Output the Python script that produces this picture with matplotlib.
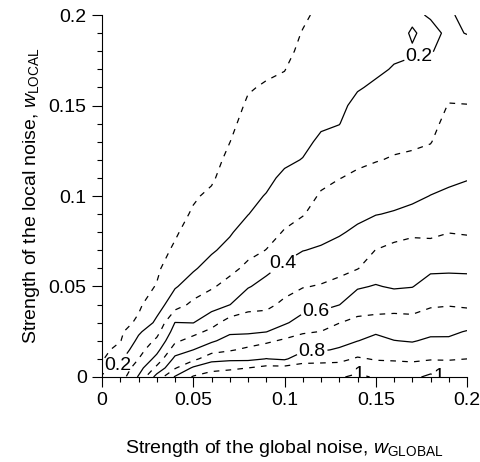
import matplotlib
matplotlib.use('Agg')
import matplotlib.pyplot as plt
import numpy as np

plt.rcParams['font.family'] = 'Liberation Sans'
plt.rcParams['mathtext.fontset'] = 'custom'
plt.rcParams['mathtext.rm'] = 'Liberation Sans'
plt.rcParams['mathtext.it'] = 'Liberation Sans:italic'
plt.rcParams['lines.dashed_pattern'] = [4.5, 5.0]

# grid: w_GLOBAL columns, w_LOCAL rows
w_global = [0.00, 0.01, 0.02, 0.03, 0.04, 0.05, 0.06, 0.07, 0.08, 0.09, 0.10,
            0.11, 0.12, 0.13, 0.14, 0.15, 0.16, 0.17, 0.18, 0.19, 0.20]
w_local = [0.0, 0.005, 0.01, 0.015, 0.02, 0.025, 0.03, 0.04, 0.05, 0.06, 0.07, 0.08,
           0.09, 0.10, 0.11, 0.12, 0.13, 0.14, 0.15, 0.16, 0.17, 0.18, 0.19, 0.20]

# one list per w_GLOBAL column, bottom to top
z_cols = [
    [0.22, 0.15, 0.09, 0.07, 0.055, 0.045, 0.04, 0.03, 0.025, 0.02, 0.02, 0.015, 0.015, 0.01, 0.01, 0.01, 0.01, 0.01, 0.01, 0.01, 0.01, 0.01, 0.01, 0.01],
    [0.25, 0.22, 0.182, 0.136, 0.095, 0.08, 0.068, 0.05, 0.04, 0.03, 0.025, 0.02, 0.02, 0.015, 0.015, 0.015, 0.01, 0.01, 0.01, 0.01, 0.01, 0.01, 0.01, 0.01],
    [0.41, 0.355, 0.30, 0.262, 0.223, 0.185, 0.115, 0.085, 0.065, 0.05, 0.04, 0.035, 0.03, 0.025, 0.02, 0.02, 0.02, 0.015, 0.015, 0.015, 0.01, 0.01, 0.01, 0.01],
    [0.64, 0.525, 0.433, 0.37, 0.32, 0.267, 0.222, 0.155, 0.105, 0.085, 0.07, 0.06, 0.05, 0.045, 0.04, 0.035, 0.03, 0.03, 0.025, 0.025, 0.02, 0.02, 0.02, 0.02],
    [0.81, 0.69, 0.625, 0.55, 0.483, 0.442, 0.402, 0.257, 0.192, 0.152, 0.112, 0.09, 0.075, 0.065, 0.055, 0.05, 0.045, 0.04, 0.035, 0.035, 0.03, 0.03, 0.025, 0.025],
    [0.91, 0.817, 0.671, 0.60, 0.537, 0.47, 0.398, 0.323, 0.242, 0.19, 0.161, 0.134, 0.108, 0.092, 0.08, 0.07, 0.06, 0.055, 0.05, 0.045, 0.04, 0.04, 0.035, 0.035],
    [0.95, 0.867, 0.767, 0.657, 0.587, 0.525, 0.462, 0.36, 0.289, 0.233, 0.19, 0.164, 0.138, 0.113, 0.09, 0.075, 0.065, 0.06, 0.055, 0.05, 0.045, 0.045, 0.04, 0.04],
    [0.97, 0.88, 0.78, 0.689, 0.633, 0.585, 0.546, 0.398, 0.333, 0.275, 0.225, 0.191, 0.172, 0.154, 0.135, 0.117, 0.099, 0.085, 0.075, 0.065, 0.06, 0.055, 0.05, 0.05],
    [0.98, 0.90, 0.778, 0.722, 0.65, 0.585, 0.546, 0.469, 0.393, 0.321, 0.274, 0.237, 0.198, 0.185, 0.169, 0.154, 0.138, 0.123, 0.108, 0.095, 0.085, 0.075, 0.07, 0.065],
    [0.98, 0.93, 0.802, 0.744, 0.683, 0.598, 0.55, 0.477, 0.432, 0.377, 0.302, 0.268, 0.235, 0.203, 0.186, 0.17, 0.155, 0.138, 0.122, 0.106, 0.09, 0.08, 0.075, 0.07],
    [0.99, 0.93, 0.786, 0.75, 0.714, 0.65, 0.587, 0.52, 0.467, 0.419, 0.365, 0.306, 0.273, 0.242, 0.212, 0.189, 0.171, 0.153, 0.135, 0.116, 0.098, 0.08, 0.075, 0.07],
    [0.99, 0.94, 0.86, 0.782, 0.736, 0.69, 0.64, 0.56, 0.495, 0.448, 0.398, 0.344, 0.294, 0.263, 0.231, 0.202, 0.186, 0.172, 0.158, 0.144, 0.131, 0.117, 0.103, 0.09],
    [0.99, 0.94, 0.867, 0.79, 0.745, 0.702, 0.655, 0.573, 0.507, 0.457, 0.41, 0.374, 0.342, 0.31, 0.277, 0.243, 0.21, 0.192, 0.179, 0.166, 0.153, 0.14, 0.127, 0.114],
    [0.99, 0.94, 0.875, 0.81, 0.771, 0.736, 0.698, 0.598, 0.529, 0.474, 0.43, 0.391, 0.361, 0.33, 0.298, 0.264, 0.229, 0.198, 0.186, 0.175, 0.163, 0.152, 0.14, 0.13],
    [1.02, 0.967, 0.911, 0.856, 0.798, 0.762, 0.723, 0.656, 0.59, 0.496, 0.456, 0.416, 0.38, 0.347, 0.313, 0.286, 0.263, 0.24, 0.216, 0.195, 0.18, 0.166, 0.152, 0.14],
    [0.99, 0.94, 0.893, 0.86, 0.827, 0.789, 0.733, 0.661, 0.606, 0.553, 0.502, 0.447, 0.397, 0.362, 0.328, 0.296, 0.274, 0.252, 0.23, 0.209, 0.19, 0.175, 0.16, 0.145],
    [0.98, 0.935, 0.89, 0.845, 0.802, 0.769, 0.738, 0.664, 0.59, 0.555, 0.521, 0.473, 0.407, 0.371, 0.339, 0.306, 0.284, 0.264, 0.244, 0.224, 0.204, 0.19, 0.18, 0.17],
    [0.98, 0.94, 0.88, 0.836, 0.794, 0.762, 0.731, 0.664, 0.597, 0.562, 0.528, 0.488, 0.425, 0.38, 0.347, 0.313, 0.288, 0.268, 0.248, 0.228, 0.208, 0.196, 0.205, 0.19],
    [1.02, 0.96, 0.892, 0.854, 0.815, 0.781, 0.75, 0.689, 0.637, 0.584, 0.532, 0.483, 0.442, 0.402, 0.364, 0.329, 0.296, 0.277, 0.258, 0.238, 0.219, 0.195, 0.185, 0.205],
    [0.99, 0.945, 0.892, 0.854, 0.815, 0.782, 0.753, 0.695, 0.637, 0.587, 0.543, 0.498, 0.457, 0.413, 0.386, 0.365, 0.345, 0.324, 0.304, 0.275, 0.25, 0.225, 0.21, 0.205],
    [0.99, 0.945, 0.90, 0.869, 0.838, 0.806, 0.76, 0.686, 0.633, 0.586, 0.536, 0.493, 0.46, 0.427, 0.395, 0.371, 0.348, 0.324, 0.302, 0.275, 0.25, 0.225, 0.198, 0.19],
]

solid_levels = [0.2, 0.4, 0.6, 0.8, 1.0]
dashed_levels = [0.1, 0.3, 0.5, 0.7, 0.9]
level_text = {0.2: '0.2', 0.4: '0.4', 0.6: '0.6', 0.8: '0.8', 1.0: '1'}
# where the labels sit on the solid lines
label_spots = [(0.009, 0.0055), (0.0997, 0.062), (0.117, 0.038), (0.115, 0.015),
               (0.141, 0.002), (0.185, 0.002), (0.174, 0.176)]

tick_vals = [0, 0.05, 0.1, 0.15, 0.2]
tick_text = ['0', '0.05', '0.1', '0.15', '0.2']

Z = np.array(z_cols).T

fig = plt.figure(figsize=(4.81, 4.62), dpi=100)
ax = fig.add_axes([0.2121, 0.184, 0.7588, 0.7835])

cs = ax.contour(w_global, w_local, Z, levels=solid_levels, colors='k',
                linewidths=0.9, linestyles='solid')
ax.contour(w_global, w_local, Z, levels=dashed_levels, colors='k',
           linewidths=0.9, linestyles='dashed')
labels = ax.clabel(cs, inline=True, fmt=level_text, fontsize=14,
                   manual=label_spots, inline_spacing=2)
for t in labels:
    t.set_rotation(0)

ax.set_xlim(0, 0.2)
ax.set_ylim(0, 0.2)
ax.spines['top'].set_visible(False)
ax.spines['right'].set_visible(False)
ax.set_xticks(tick_vals)
ax.set_xticklabels(tick_text)
ax.set_yticks(tick_vals)
ax.set_yticklabels(tick_text)
ax.set_xticks(np.arange(0, 0.2001, 0.01), minor=True)
ax.set_yticks(np.arange(0, 0.2001, 0.01), minor=True)
ax.tick_params(which='major', direction='out', length=7, width=0.8, labelsize=14, pad=4)
ax.tick_params(which='minor', direction='out', length=3.5, width=0.8)

ax.set_xlabel(r'Strength of the global noise, $w_{\mathrm{GLOBAL}}$', fontsize=14, labelpad=21)
ax.set_ylabel(r'Strength of the local noise, $w_{\mathrm{LOCAL}}$', fontsize=14, labelpad=5)

fig.savefig('out.png', dpi=100)
